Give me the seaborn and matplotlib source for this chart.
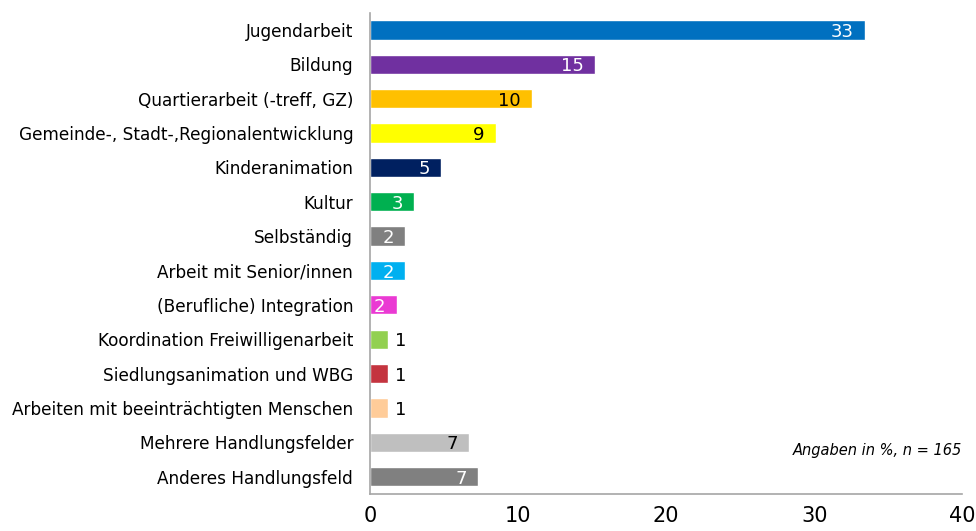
import matplotlib
matplotlib.use("Agg")
import matplotlib.pyplot as plt
import seaborn as sns
import pandas as pd
from matplotlib.ticker import FixedLocator

# data
categories = [
    "Jugendarbeit",
    "Bildung",
    "Quartierarbeit (-treff, GZ)",
    "Gemeinde-, Stadt-,Regionalentwicklung",
    "Kinderanimation",
    "Kultur",
    "Selbständig",
    "Arbeit mit Senior/innen",
    "(Berufliche) Integration",
    "Koordination Freiwilligenarbeit",
    "Siedlungsanimation und WBG",
    "Arbeiten mit beeinträchtigten Menschen",
    "Mehrere Handlungsfelder",
    "Anderes Handlungsfeld",
]
values = [33.4, 15.2, 10.95, 8.5, 4.8, 3.0, 2.4, 2.4, 1.8, 1.2, 1.2, 1.2, 6.7, 7.3]
labels = ["33", "15", "10", "9", "5", "3", "2", "2", "2", "1", "1", "1", "7", "7"]
colors = ["#0070C0", "#7030A0", "#FFC000", "#FFFF00", "#002060", "#00B050", "#808080",
          "#00B0F0", "#EA3AD3", "#92D050", "#C4343F", "#FFCC99", "#BFBFBF", "#808080"]
label_colors = ["white", "white", "black", "black", "white", "white", "white",
                "white", "white", "black", "black", "black", "black", "white"]

df = pd.DataFrame({"cat": categories, "val": values})

sns.set_style("white")
plt.rcParams["font.family"] = ["DejaVu Sans"]
plt.rcParams["text.color"] = "black"
plt.rcParams["xtick.color"] = "black"
plt.rcParams["ytick.color"] = "black"

fig = plt.figure(figsize=(9.76, 5.31), dpi=100)
ax = fig.add_axes([0.379, 0.070, 0.607, 0.906])

sns.barplot(data=df, y="cat", x="val", hue="cat", palette=colors, legend=False,
            width=0.56, saturation=1, ax=ax, orient="h")

ax.set_xlim(0, 40)
ax.set_ylim(len(categories) - 0.5, -0.5)
ax.set_xticks([0, 10, 20, 30, 40])
ax.set_xlabel("")
ax.set_ylabel("")

# bar value labels
for i, (v, lab, lc) in enumerate(zip(values, labels, label_colors)):
    if v < 1.5:
        ax.annotate(lab, (v, i), xytext=(5, -1.5), textcoords="offset points",
                    ha="left", va="center", color=lc, fontsize=13)
    else:
        ax.annotate(lab, (v, i), xytext=(-8, -1.5), textcoords="offset points",
                    ha="right", va="center", color=lc, fontsize=13)

# spines and ticks
for s in ["top", "right"]:
    ax.spines[s].set_visible(False)
for s in ["left", "bottom"]:
    ax.spines[s].set_color("#A6A6A6")
    ax.spines[s].set_linewidth(1.2)

ax.tick_params(axis="y", which="major", length=0, labelsize=12.2, pad=12)
ax.yaxis.set_minor_locator(FixedLocator([i - 0.5 for i in range(len(categories) + 1)]))
ax.tick_params(axis="y", which="minor", length=5, color="#A6A6A6", width=1.2, direction="out")
ax.tick_params(axis="x", which="major", length=6, color="#A6A6A6", width=1.2,
               direction="out", labelsize=15, pad=3)

ax.text(1.0, 0.091, "Angaben in %, n = 165", transform=ax.transAxes,
        ha="right", va="center", fontsize=10.5, style="italic")

fig.savefig("out.png", dpi=100)
